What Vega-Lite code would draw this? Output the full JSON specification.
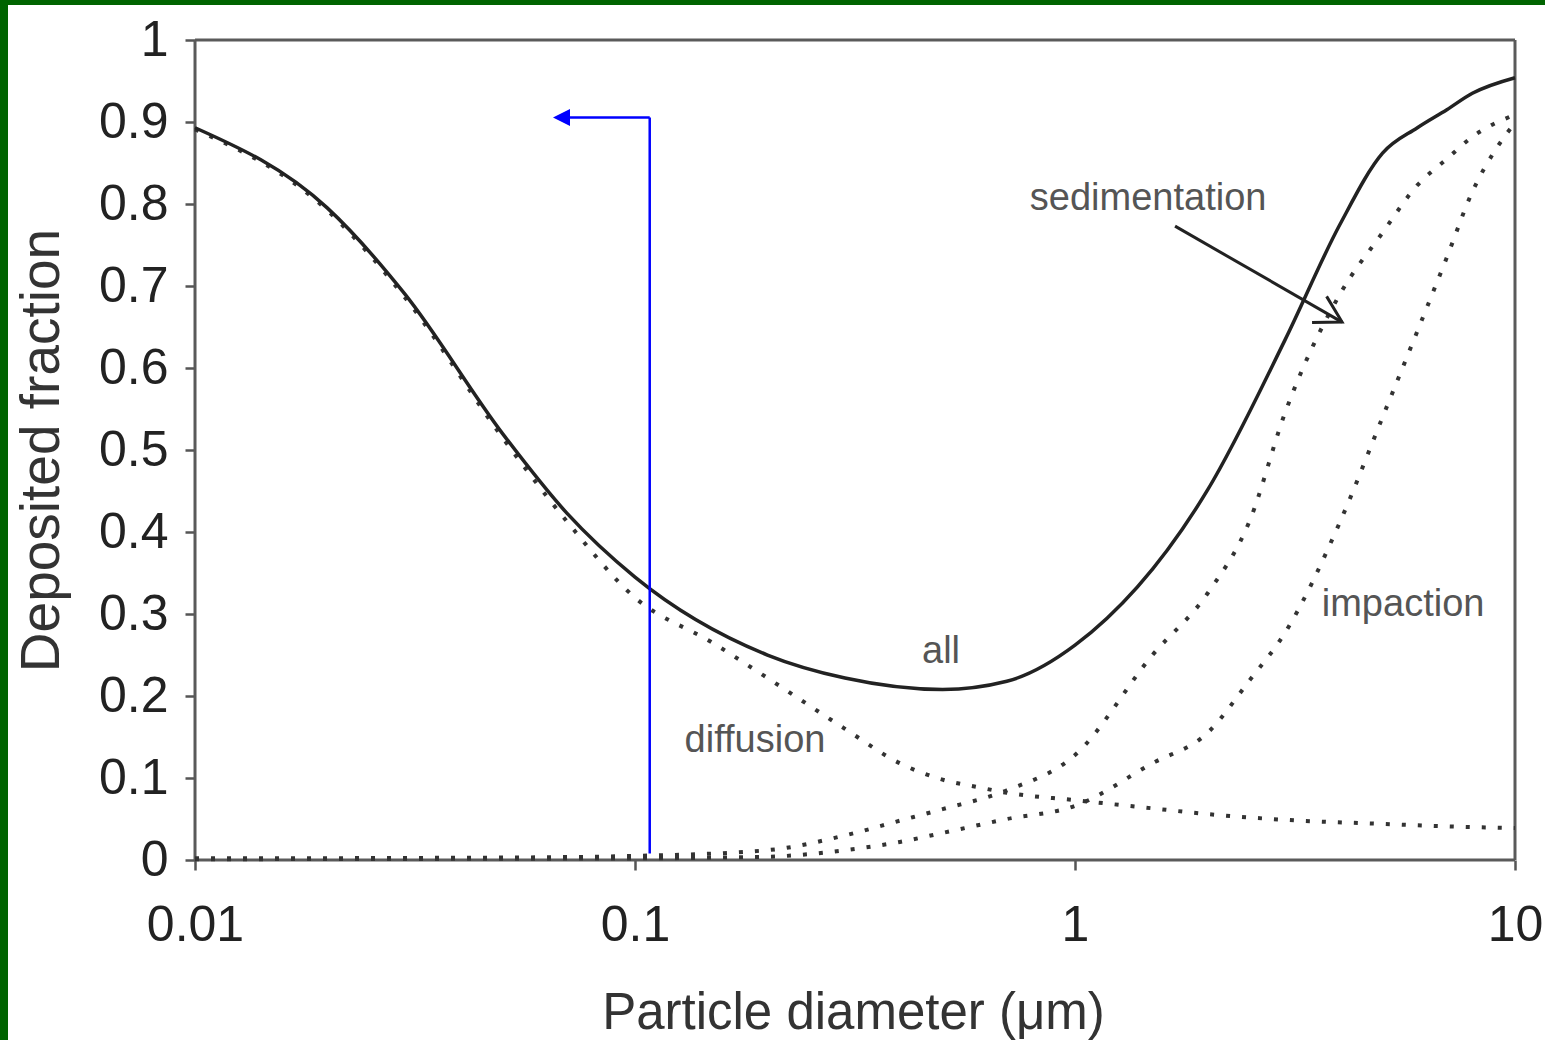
{
  "$schema": "https://vega.github.io/schema/vega-lite/v6.json",
  "autosize": {"type": "none"},
  "padding": {"left": 8, "top": 5, "right": 0, "bottom": 0},
  "width": 1537,
  "height": 1035,
  "background": "#006400",
  "view": {"fill": "white", "stroke": null},
  "datasets": {
    "curves": [
      {"mech": "all", "d": 0.01, "frac": 0.893},
      {"mech": "all", "d": 0.02, "frac": 0.795},
      {"mech": "all", "d": 0.03, "frac": 0.69},
      {"mech": "all", "d": 0.05, "frac": 0.52},
      {"mech": "all", "d": 0.07, "frac": 0.423},
      {"mech": "all", "d": 0.1, "frac": 0.345},
      {"mech": "all", "d": 0.2, "frac": 0.25},
      {"mech": "all", "d": 0.3, "frac": 0.222},
      {"mech": "all", "d": 0.5, "frac": 0.208},
      {"mech": "all", "d": 0.7, "frac": 0.218},
      {"mech": "all", "d": 1, "frac": 0.262},
      {"mech": "all", "d": 2, "frac": 0.451},
      {"mech": "all", "d": 3, "frac": 0.634},
      {"mech": "all", "d": 4, "frac": 0.775},
      {"mech": "all", "d": 5, "frac": 0.862},
      {"mech": "all", "d": 6, "frac": 0.893},
      {"mech": "all", "d": 7, "frac": 0.915},
      {"mech": "all", "d": 8, "frac": 0.935},
      {"mech": "all", "d": 10, "frac": 0.954},
      {"mech": "diffusion", "d": 0.01, "frac": 0.891},
      {"mech": "diffusion", "d": 0.02, "frac": 0.792},
      {"mech": "diffusion", "d": 0.03, "frac": 0.686},
      {"mech": "diffusion", "d": 0.05, "frac": 0.515},
      {"mech": "diffusion", "d": 0.07, "frac": 0.413},
      {"mech": "diffusion", "d": 0.1, "frac": 0.32},
      {"mech": "diffusion", "d": 0.15, "frac": 0.265},
      {"mech": "diffusion", "d": 0.2, "frac": 0.222},
      {"mech": "diffusion", "d": 0.3, "frac": 0.16},
      {"mech": "diffusion", "d": 0.4, "frac": 0.118},
      {"mech": "diffusion", "d": 0.5, "frac": 0.098},
      {"mech": "diffusion", "d": 0.6, "frac": 0.089},
      {"mech": "diffusion", "d": 0.7, "frac": 0.082},
      {"mech": "diffusion", "d": 1, "frac": 0.073},
      {"mech": "diffusion", "d": 1.5, "frac": 0.063},
      {"mech": "diffusion", "d": 2, "frac": 0.056},
      {"mech": "diffusion", "d": 3, "frac": 0.049},
      {"mech": "diffusion", "d": 5, "frac": 0.044},
      {"mech": "diffusion", "d": 7, "frac": 0.041},
      {"mech": "diffusion", "d": 10, "frac": 0.039},
      {"mech": "sedimentation", "d": 0.01, "frac": 0.002},
      {"mech": "sedimentation", "d": 0.05, "frac": 0.003},
      {"mech": "sedimentation", "d": 0.1, "frac": 0.005},
      {"mech": "sedimentation", "d": 0.2, "frac": 0.012},
      {"mech": "sedimentation", "d": 0.3, "frac": 0.03},
      {"mech": "sedimentation", "d": 0.4, "frac": 0.048},
      {"mech": "sedimentation", "d": 0.5, "frac": 0.062},
      {"mech": "sedimentation", "d": 0.7, "frac": 0.085},
      {"mech": "sedimentation", "d": 1, "frac": 0.128},
      {"mech": "sedimentation", "d": 1.5, "frac": 0.25},
      {"mech": "sedimentation", "d": 2, "frac": 0.325},
      {"mech": "sedimentation", "d": 2.5, "frac": 0.415},
      {"mech": "sedimentation", "d": 3, "frac": 0.545},
      {"mech": "sedimentation", "d": 4, "frac": 0.69},
      {"mech": "sedimentation", "d": 5, "frac": 0.765},
      {"mech": "sedimentation", "d": 6, "frac": 0.823},
      {"mech": "sedimentation", "d": 7, "frac": 0.855},
      {"mech": "sedimentation", "d": 8, "frac": 0.882},
      {"mech": "sedimentation", "d": 10, "frac": 0.909},
      {"mech": "impaction", "d": 0.01, "frac": 0.001},
      {"mech": "impaction", "d": 0.1, "frac": 0.002},
      {"mech": "impaction", "d": 0.2, "frac": 0.004},
      {"mech": "impaction", "d": 0.3, "frac": 0.012},
      {"mech": "impaction", "d": 0.4, "frac": 0.022},
      {"mech": "impaction", "d": 0.5, "frac": 0.033},
      {"mech": "impaction", "d": 0.7, "frac": 0.05},
      {"mech": "impaction", "d": 1, "frac": 0.066},
      {"mech": "impaction", "d": 1.5, "frac": 0.118},
      {"mech": "impaction", "d": 2, "frac": 0.155},
      {"mech": "impaction", "d": 2.5, "frac": 0.22},
      {"mech": "impaction", "d": 3, "frac": 0.277},
      {"mech": "impaction", "d": 4, "frac": 0.412},
      {"mech": "impaction", "d": 5, "frac": 0.54},
      {"mech": "impaction", "d": 6, "frac": 0.645},
      {"mech": "impaction", "d": 7, "frac": 0.735},
      {"mech": "impaction", "d": 8, "frac": 0.815},
      {"mech": "impaction", "d": 9, "frac": 0.865},
      {"mech": "impaction", "d": 10, "frac": 0.899}
    ],
    "frame": [
      {"d": 0.01, "d2": 10, "frac": 1, "frac2": 1},
      {"d": 10, "d2": 10, "frac": 0, "frac2": 1},
      {"d": 0.01, "d2": 0.01, "frac": 0, "frac2": 1},
      {"d": 0.01, "d2": 10, "frac": 0, "frac2": 0}
    ],
    "marker": [
      {"d": 0.108, "d2": 0.108, "frac": 0.008, "frac2": 0.9055},
      {"d": 0.108, "d2": 0.068, "frac": 0.9055, "frac2": 0.9055}
    ],
    "markerTip": [{"d": 0.0651, "frac": 0.9055}],
    "sedArrow": [{"d": 1.688, "d2": 4.045, "frac": 0.773, "frac2": 0.656}],
    "sedTip": [{"d": 4.045, "frac": 0.656}],
    "labels": [
      {"d": 1.466, "frac": 0.793, "text": "sedimentation"},
      {"d": 0.496, "frac": 0.240, "text": "all"},
      {"d": 0.1874, "frac": 0.132, "text": "diffusion"},
      {"d": 5.567, "frac": 0.2976, "text": "impaction"}
    ]
  },
  "encoding": {
    "x": {
      "field": "d",
      "type": "quantitative",
      "scale": {"type": "log", "domain": [0.003758, 11.70], "nice": false, "zero": false},
      "axis": {
        "values": [0.01, 0.1, 1, 10],
        "format": "~g",
        "offset": -180,
        "domain": false,
        "grid": false,
        "tickSize": 10,
        "tickWidth": 2.5,
        "tickColor": "#555555",
        "labelFont": "Liberation Sans, sans-serif",
        "labelFontSize": 50,
        "labelColor": "#222222",
        "labelPadding": 30,
        "labelFlush": false,
        "labelOverlap": false,
        "title": "Particle diameter (μm)",
        "titleFont": "Liberation Sans, sans-serif",
        "titleFontSize": 51,
        "titleFontWeight": "normal",
        "titleColor": "#333333",
        "titleX": 845,
        "titleY": 168,
        "titleAlign": "center",
        "titleBaseline": "alphabetic"
      }
    },
    "y": {
      "field": "frac",
      "type": "quantitative",
      "scale": {"domain": [-0.2195, 1.0427], "nice": false, "zero": false},
      "axis": {
        "values": [0, 0.1, 0.2, 0.3, 0.4, 0.5, 0.6, 0.7, 0.8, 0.9, 1],
        "format": "~g",
        "offset": -187,
        "domain": false,
        "grid": false,
        "tickSize": 10,
        "tickWidth": 2.5,
        "tickColor": "#555555",
        "labelFont": "Liberation Sans, sans-serif",
        "labelFontSize": 50,
        "labelColor": "#222222",
        "labelPadding": 17,
        "labelOverlap": false,
        "labelFlush": false,
        "title": "Deposited fraction",
        "titleFont": "Liberation Sans, sans-serif",
        "titleFontSize": 55,
        "titleFontWeight": "normal",
        "titleColor": "#333333",
        "titleAngle": 270,
        "titleX": -137,
        "titleY": 445,
        "titleAlign": "center",
        "titleBaseline": "alphabetic"
      }
    }
  },
  "layer": [
    {
      "data": {"name": "frame"},
      "mark": {"type": "rule", "color": "#5a5a5a", "strokeWidth": 3},
      "encoding": {
        "x2": {"field": "d2"},
        "y2": {"field": "frac2"}
      }
    },
    {
      "data": {"name": "curves"},
      "transform": [{"filter": "datum.mech !== 'all'"}],
      "mark": {"type": "line", "interpolate": "monotone", "color": "#333333", "strokeWidth": 4, "strokeDash": [4, 12], "strokeCap": "butt"},
      "encoding": {
        "detail": {"field": "mech", "type": "nominal"},
        "order": {"field": "d", "type": "quantitative"}
      }
    },
    {
      "data": {"name": "curves"},
      "transform": [{"filter": "datum.mech === 'all'"}],
      "mark": {"type": "line", "interpolate": "monotone", "color": "#222222", "strokeWidth": 3.5, "strokeJoin": "round"},
      "encoding": {
        "order": {"field": "d", "type": "quantitative"}
      }
    },
    {
      "data": {"name": "marker"},
      "mark": {"type": "rule", "color": "#0000ff", "strokeWidth": 2.5},
      "encoding": {
        "x2": {"field": "d2"},
        "y2": {"field": "frac2"}
      }
    },
    {
      "data": {"name": "markerTip"},
      "mark": {"type": "point", "shape": "M 0 0 L 2 -1 L 2 1 Z", "filled": true, "color": "#0000ff", "size": 290, "opacity": 1}
    },
    {
      "data": {"name": "sedArrow"},
      "mark": {"type": "rule", "color": "#222222", "strokeWidth": 3},
      "encoding": {
        "x2": {"field": "d2"},
        "y2": {"field": "frac2"}
      }
    },
    {
      "data": {"name": "sedTip"},
      "mark": {"type": "point", "shape": "M -1.732 -1 L 0 0 L -1.732 1", "filled": false, "color": "#222222", "strokeWidth": 3, "size": 900, "angle": 29, "opacity": 1}
    },
    {
      "data": {"name": "labels"},
      "mark": {"type": "text", "font": "Liberation Sans, sans-serif", "fontSize": 38, "color": "#555555", "align": "center", "baseline": "alphabetic"},
      "encoding": {
        "text": {"field": "text", "type": "nominal"}
      }
    }
  ]
}
